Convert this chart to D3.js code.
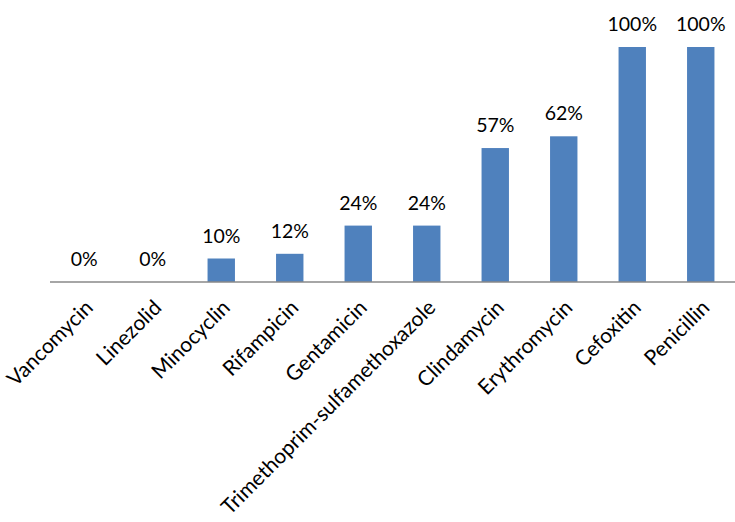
<!DOCTYPE html>
<html><head><meta charset="utf-8">
<script src="https://cdn.jsdelivr.net/npm/d3@7"></script>
<style>body{margin:0;background:#fff}svg{display:block}</style>
</head><body>
<script>
const categories = ["Vancomycin","Linezolid","Minocyclin","Rifampicin","Gentamicin","Trimethoprim-sulfamethoxazole","Clindamycin","Erythromycin","Cefoxitin","Penicillin"];
const values = [0,0,10,12,24,24,57,62,100,100];

const W = 735, H = 522;
const svg = d3.select("body").append("svg").attr("width", W).attr("height", H);
const font = "Lato, 'Open Sans', sans-serif";

const x = d3.scaleBand().domain(categories).range([50, 735]).paddingInner(0.6).paddingOuter(0.3);
const y = d3.scaleLinear().domain([0, 100]).range([282, 47]);

svg.selectAll("rect.bar").data(values).join("rect")
  .attr("class","bar")
  .attr("x", (d,i) => x(categories[i]))
  .attr("width", x.bandwidth())
  .attr("y", d => y(d))
  .attr("height", d => y(0) - y(d))
  .attr("fill", "#4f81bd");

svg.append("line").attr("x1", 50).attr("x2", 735).attr("y1", y(0)).attr("y2", y(0))
  .attr("stroke", "#888").attr("stroke-width", 1.5);

svg.selectAll("text.val").data(values).join("text")
  .attr("class","val")
  .attr("x", (d,i) => x(categories[i]) + x.bandwidth()/2)
  .attr("y", d => y(d) - 16)
  .attr("text-anchor","middle")
  .attr("font-family", font).attr("font-size", 19.5).attr("fill","#000")
  .text(d => d + "%");

svg.selectAll("text.cat").data(categories).join("text")
  .attr("class","cat")
  .attr("transform", d => `translate(${x(d) + x.bandwidth()/2 + 10},${y(0) + 27}) rotate(-45)`)
  .attr("text-anchor","end")
  .attr("font-family", font).attr("font-size", 21).attr("fill","#000")
  .text(d => d);
</script>
</body></html>
